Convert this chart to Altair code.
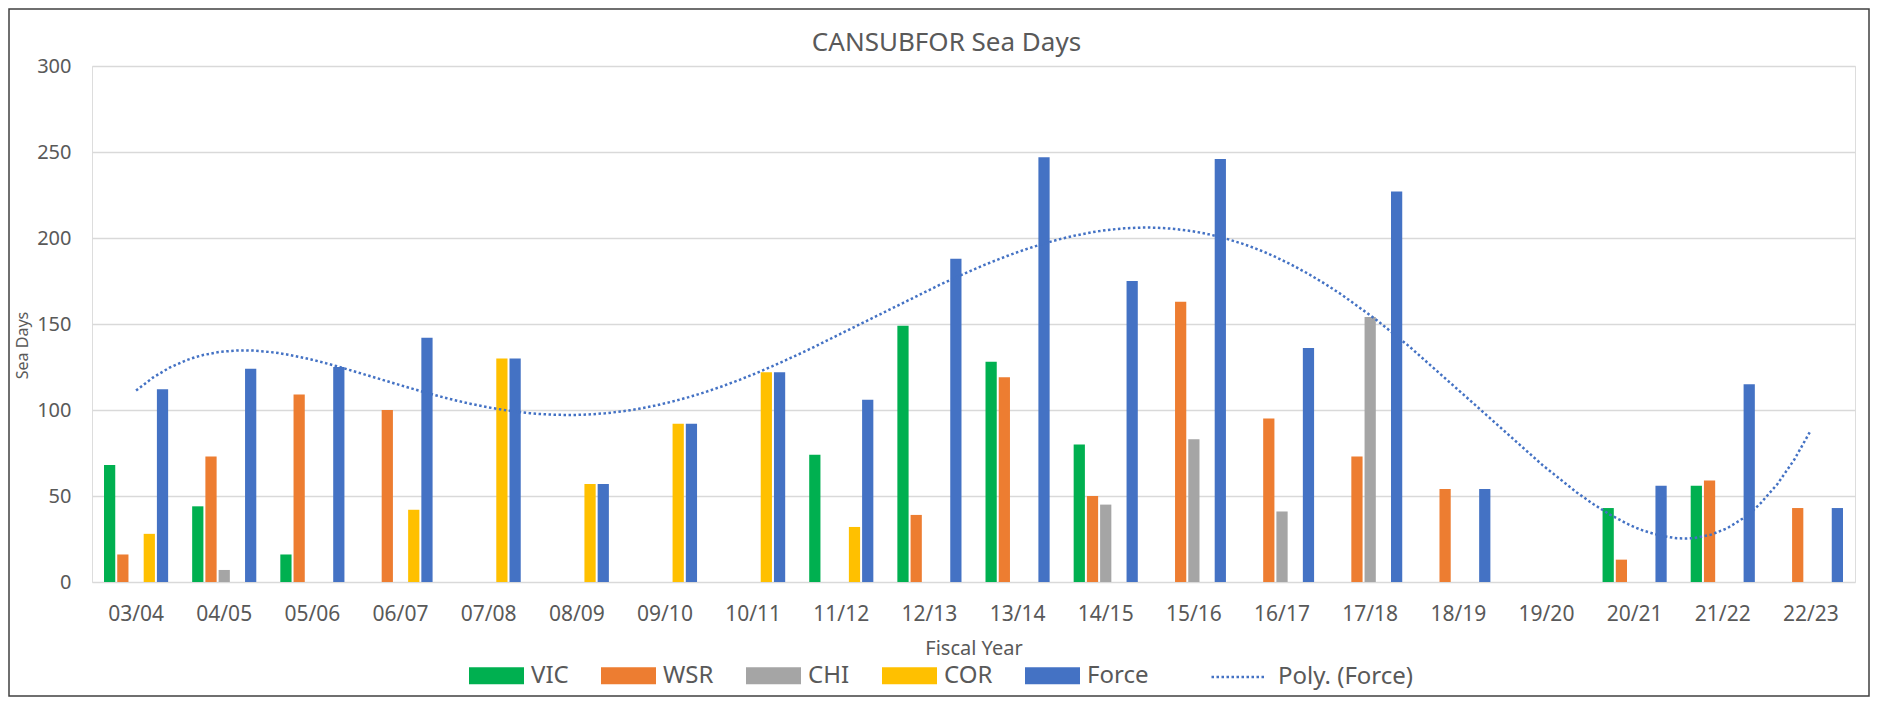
import altair as alt
import pandas as pd

# ---- data ----
years = ["03/04", "04/05", "05/06", "06/07", "07/08", "08/09", "09/10", "10/11", "11/12", "12/13",
         "13/14", "14/15", "15/16", "16/17", "17/18", "18/19", "19/20", "20/21", "21/22", "22/23"]
series_names = ["VIC", "WSR", "CHI", "COR", "Force"]
series_colors = ["#00B050", "#ED7D31", "#A5A5A5", "#FFC000", "#4472C4"]
vic = [68, 44, 16, 0, 0, 0, 0, 0, 74, 149, 128, 80, 0, 0, 0, 0, 0, 43, 56, 0]
wsr = [16, 73, 109, 100, 0, 0, 0, 0, 0, 39, 119, 50, 163, 95, 73, 54, 0, 13, 59, 43]
chi = [0, 7, 0, 0, 0, 0, 0, 0, 0, 0, 0, 45, 83, 41, 154, 0, 0, 0, 0, 0]
cor = [28, 0, 0, 42, 130, 57, 92, 122, 32, 0, 0, 0, 0, 0, 0, 0, 0, 0, 0, 0]
force = [112, 124, 125, 142, 130, 57, 92, 122, 106, 188, 247, 175, 246, 136, 227, 54, 0, 56, 115, 43]
trend_label = "Poly. (Force)"
trend_order = 5
y_ticks = [0, 50, 100, 150, 200, 250, 300]

rows = []
for name, vals in zip(series_names, [vic, wsr, chi, cor, force]):
    for yr, v in zip(years, vals):
        rows.append({"year": yr, "series": name, "value": v})
bars_df = pd.DataFrame(rows)
trend_df = pd.DataFrame({"idx": list(range(1, len(years) + 1)), "Force": force})

FONT = "Noto Sans"
GREY = "#595959"
W, H = 1763, 516
PAD = {"left": 84, "top": 58, "right": 15, "bottom": 115}

yscale = alt.Scale(domain=[0, 300], nice=False)
yaxis = alt.Axis(title="Sea Days", values=y_ticks, grid=True, gridColor="#D9D9D9", gridWidth=1.5,
                 domain=False, ticks=False, tickSize=0, labelPadding=21, labelFontSize=20,
                 labelColor=GREY, labelFont=FONT, titleFontSize=16, titleColor=GREY, titleFont=FONT,
                 titleFontWeight="normal", titleAngle=270, titleX=-70, titleY=279,
                 titleAlign="center", titleBaseline="middle")

# outer chart border (decoration)
frame = alt.Chart(pd.DataFrame({"k": [0]})).mark_rect(
    fill="transparent", stroke="#404040", strokeWidth=1.5
).encode(x=alt.value(-83), x2=alt.value(W + 14), y=alt.value(-57), y2=alt.value(H + 114))

bars = alt.Chart(bars_df).transform_filter("datum.value > 0").mark_bar().encode(
    x=alt.X("year:N", sort=years,
            scale=alt.Scale(domain=years, paddingInner=0.25, paddingOuter=0.125),
            axis=alt.Axis(title="Fiscal Year", labelAngle=0, ticks=False, tickSize=0, domain=False,
                          grid=False, labelPadding=21, labelFontSize=21, labelColor=GREY,
                          labelFont=FONT, titleFontSize=20, titleColor=GREY, titleFont=FONT,
                          titleFontWeight="normal", titleBaseline="alphabetic", titleY=72)),
    xOffset=alt.XOffset("series:N", sort=series_names,
                        scale=alt.Scale(domain=series_names, paddingInner=0.15, paddingOuter=0.075)),
    y=alt.Y("value:Q", scale=yscale, axis=yaxis),
    color=alt.Color("series:N", sort=series_names,
                    scale=alt.Scale(domain=series_names, range=series_colors),
                    legend=alt.Legend(title=None, orient="none", legendX=377, legendY=582,
                                      direction="horizontal", symbolType="M-1,-0.31L1,-0.31L1,0.31L-1,0.31Z",
                                      symbolSize=3025, symbolStrokeWidth=0, labelFontSize=24,
                                      labelColor=GREY, labelFont=FONT, labelOffset=7,
                                      columnPadding=32, padding=0)),
)

trend = alt.Chart(trend_df).transform_regression(
    on="idx", regression="Force", method="poly", order=trend_order, extent=[1, 20]
).transform_calculate(fit=f"'{trend_label}'").mark_line(strokeDash=[2.5, 2.5], strokeWidth=2.5).encode(
    x=alt.X("idx:Q", scale=alt.Scale(domain=[0.5, 20.5], nice=False, zero=False), axis=None),
    y=alt.Y("Force:Q", scale=yscale, axis=yaxis),
    color=alt.Color("fit:N", scale=alt.Scale(domain=[trend_label], range=["#4472C4"]),
                    legend=alt.Legend(title=None, orient="none", legendX=1118, legendY=582,
                                      symbolType="stroke", symbolSize=3025, symbolStrokeWidth=2.5,
                                      symbolDash=[2.5, 2.5], symbolStrokeColor="#4472C4",
                                      labelFontSize=24, labelColor=GREY, labelFont=FONT,
                                      labelOffset=10, padding=0)),
)

chart = alt.layer(frame, bars, trend).resolve_scale(
    x="independent", color="independent"
).properties(
    width=W, height=H, padding=PAD, autosize=alt.AutoSizeParams(type="none"),
    title=alt.TitleParams("CANSUBFOR Sea Days", fontSize=26, font=FONT, color=GREY,
                          fontWeight="normal", anchor="middle", dx=-27, offset=-69,
                          baseline="alphabetic"),
).configure_view(strokeWidth=0).configure(font=FONT)

chart.save("out.html", embed_options={"renderer": "svg", "actions": False})
